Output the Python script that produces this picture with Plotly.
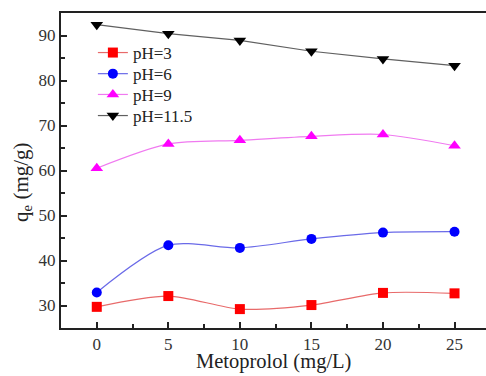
import plotly.graph_objects as go

x = [0, 5, 10, 15, 20, 25]
ph3 = [29.7, 32.1, 29.2, 30.1, 32.8, 32.7]
ph6 = [32.9, 43.4, 42.8, 44.8, 46.2, 46.4]
ph9 = [60.5, 65.9, 66.7, 67.6, 68.0, 65.5]
ph115 = [92.4, 90.4, 88.9, 86.5, 84.8, 83.3]

names = ["pH=3", "pH=6", "pH=9", "pH=11.5"]
series = [ph3, ph6, ph9, ph115]
mcolors = ["#ff0000", "#0000ff", "#ff00ff", "#000000"]
lcolors = ["#e86a6a", "#6a6ae8", "#f07af0", "#606060"]
symbols = ["square", "circle", "triangle-up", "triangle-down"]
sizes = [10, 10, 11, 11]
shapes = ["spline", "spline", "spline", "linear"]
legend_ids = ["legend", "legend2", "legend3", "legend4"]
legend_y = [0.873, 0.806, 0.740, 0.673]

font = "Times New Roman, Liberation Serif, serif"

fig = go.Figure()
for n, y, mc, lc, s, sz, sh, lid in zip(names, series, mcolors, lcolors, symbols, sizes, shapes, legend_ids):
    fig.add_trace(go.Scatter(
        x=x, y=y, name=n, mode="lines+markers", legend=lid,
        line=dict(color=lc, width=1.2, shape=sh, smoothing=0.8),
        marker=dict(symbol=s, size=sz, color=mc, line=dict(width=0)),
    ))

legends = {}
for lid, ly in zip(legend_ids, legend_y):
    legends[lid] = dict(x=0.075, y=ly, xanchor="left", yanchor="middle",
                        bgcolor="rgba(0,0,0,0)", font=dict(size=17, family=font, color="#222"),
                        itemwidth=30)

fig.update_layout(
    width=486, height=376,
    margin=dict(l=61, r=0, t=13, b=48),
    paper_bgcolor="white", plot_bgcolor="white",
    font=dict(family=font, size=16, color="#222"),
    showlegend=True,
    xaxis=dict(range=[-2.5, 27.2], tickvals=[0, 5, 10, 15, 20, 25],
               ticks="inside", ticklen=6, tickwidth=1.5, tickcolor="#222",
               showline=True, linecolor="#222", linewidth=2, mirror=True,
               showgrid=False, zeroline=False,
               minor=dict(ticks="inside", ticklen=4, tickwidth=1.5, tickcolor="#222", dtick=2.5, tick0=0),
               tickfont=dict(size=17, family=font, color="#333")),
    yaxis=dict(range=[25, 95], tickvals=[30, 40, 50, 60, 70, 80, 90],
               ticks="inside", ticklen=6, tickwidth=1.5, tickcolor="#222",
               showline=True, linecolor="#222", linewidth=2, mirror=False,
               showgrid=False, zeroline=False,
               minor=dict(ticks="inside", ticklen=4, tickwidth=1.5, tickcolor="#222", dtick=5, tick0=0),
               tickfont=dict(size=17, family=font, color="#333")),
    annotations=[
        dict(text="q<sub>e</sub> (mg/g)", textangle=-90, xref="paper", yref="paper",
             x=-0.092, y=0.4635, xanchor="center", yanchor="middle", showarrow=False,
             font=dict(size=21, family=font, color="#222")),
        dict(text="Metoprolol (mg/L)", xref="paper", yref="paper",
             x=0.5, y=-0.1048, xanchor="center", yanchor="middle", showarrow=False,
             font=dict(size=20.5, family=font, color="#222")),
    ],
    **legends,
)
fig.write_html("out.html", config={"displayModeBar": False},
               post_script="document.body.style.margin='0';document.body.style.overflow='hidden';")
